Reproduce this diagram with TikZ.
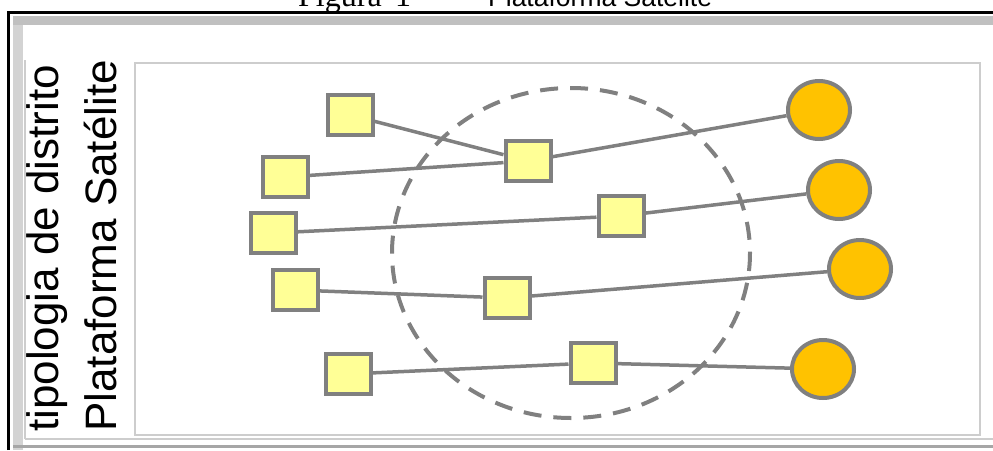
\documentclass[tikz,border=0pt]{standalone}
\usepackage{fontspec}
\setmainfont{Liberation Serif}
\setsansfont{Liberation Sans}
\usetikzlibrary{shapes.geometric}
\definecolor{mygray}{RGB}{128,128,128}
\definecolor{myyellow}{RGB}{255,255,150}
\definecolor{myorange}{RGB}{255,194,0}
\definecolor{myband}{RGB}{192,192,192}
\definecolor{myedge}{RGB}{205,205,205}

\begin{document}
\begin{tikzpicture}[%
  x=1pt, y=-1pt,
  box/.style={draw=mygray, line width=4pt, fill=myyellow,
    minimum width=45pt, minimum height=40pt, inner sep=0pt},
  sat/.style={ellipse, draw=mygray, line width=4pt, fill=myorange,
    minimum width=62pt, minimum height=58pt, inner sep=0pt},
  link/.style={mygray, line width=3.5pt},
]

  \useasboundingbox (0,0) rectangle (993,450);
  \clip (0,0) rectangle (993,450);

  % frame
  \fill[myband] (13,16) rectangle (993,25);
  \fill[myband!70] (13,25) rectangle (23,450);
  \draw[myedge, line width=2pt] (25,60) -- (25,439);
  \draw[myedge, line width=2pt] (25,439) -- (993,439);
  \draw[mygray!70, line width=3pt] (13,446) -- (993,446);
  \draw[line width=3pt] (8.5,450) -- (8.5,12.5) -- (993,12.5);

  % caption
  \node[anchor=base west, inner sep=0pt, font=\fontsize{32}{36}\rmfamily] (fig) at (298,6) {Figura};
  \node[anchor=base west, inner sep=0pt, font=\fontsize{32}{36}\rmfamily] (num) at (395,6) {1};
  \node[anchor=base west, inner sep=0pt, font=\fontsize{26.5}{30}\sffamily] (title) at (488,6) {Plataforma Satélite};

  % side labels
  \node[rotate=90, anchor=base west, inner sep=0pt, font=\fontsize{44}{50}\sffamily] (row1) at (58,432) {tipologia de distrito};
  \node[rotate=90, anchor=base west, inner sep=0pt, font=\fontsize{44}{50}\sffamily] (row2) at (116,432) {Plataforma Satélite};

  % panel
  \draw[myedge, line width=2pt] (135,63) rectangle (980,435);
  \draw[mygray, line width=4pt, dash pattern=on 18pt off 12pt] (571,253) ellipse [x radius=179, y radius=165];

  \node[box] (a1) at (350,115) {};
  \node[box] (a2) at (285,177) {};
  \node[box] (a3) at (273,233) {};
  \node[box] (a4) at (295,290) {};
  \node[box] (a5) at (348,374) {};

  \node[box] (b1) at (528,161) {};
  \node[box] (b2) at (621,216) {};
  \node[box] (b3) at (507,298) {};
  \node[box] (b4) at (593,363) {};

  \node[sat] (c1) at (819,110) {};
  \node[sat] (c2) at (839,190) {};
  \node[sat] (c3) at (860,269) {};
  \node[sat] (c4) at (823,369) {};

  \draw[link] (a1) -- (b1);
  \draw[link] (a2) -- (b1);
  \draw[link] (b1) -- (c1);
  \draw[link] (a3) -- (b2);
  \draw[link] (b2) -- (c2);
  \draw[link] (a4) -- (b3);
  \draw[link] (b3) -- (c3);
  \draw[link] (a5) -- (b4);
  \draw[link] (b4) -- (c4);

\end{tikzpicture}
\end{document}
